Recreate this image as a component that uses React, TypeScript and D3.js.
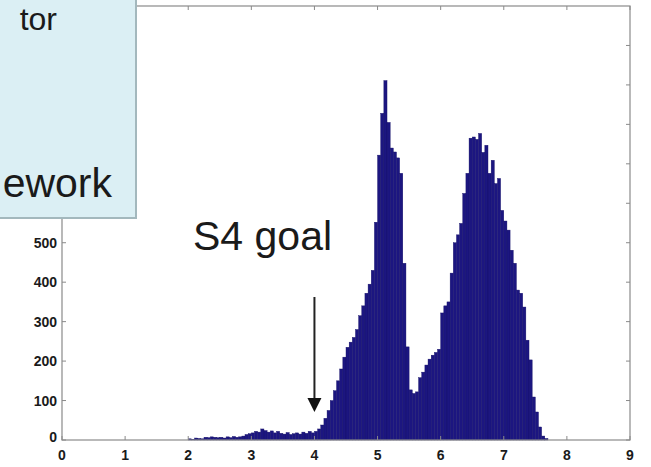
import React from "react";
import * as d3 from "d3";

// Histogram: bin left edges start at BIN_START, width BIN_WIDTH
const BIN_START = 2.0;
const BIN_WIDTH = 0.05;
const counts: number[] = [
  3, 2, 5, 4, 3, 7, 6, 8, 7, 6, // 2.00 - 2.45
  7, 5, 8, 6, 9, 7, 8, 10, 14, 16, // 2.50 - 2.95
  18, 22, 20, 28, 24, 20, 23, 18, 22, 17, // 3.00 - 3.45
  15, 19, 14, 16, 18, 15, 20, 17, 22, 18, // 3.50 - 3.95
  22, 28, 38, 55, 75, 100, 125, 150, 180, 210, // 4.00 - 4.45
  235, 248, 260, 280, 315, 340, 372, 395, 430, 552, // 4.50 - 4.95
  722, 828, 911, 805, 740, 730, 715, 676, 448, 236, // 5.00 - 5.45
  127, 118, 122, 158, 172, 190, 205, 215, 222, 230, // 5.50 - 5.95
  322, 340, 350, 423, 500, 520, 549, 625, 676, 765, // 6.00 - 6.45
  768, 762, 777, 729, 747, 676, 709, 650, 663, 582, // 6.50 - 6.95
  555, 532, 481, 448, 380, 372, 337, 253, 203, 109, // 7.00 - 7.45
  71, 33, 10, 4, // 7.50 - 7.65
];

const xTicks = [0, 1, 2, 3, 4, 5, 6, 7, 8, 9];
const yTicks = [0, 100, 200, 300, 400, 500, 600, 700, 800, 900, 1000];
const yLabelTicks = [0, 100, 200, 300, 400, 500];
const boxLines = ["tor", "ework"];
const annotation = "S4 goal";
const GOAL = 4;

export default function App() {
  const W = 651, H = 467;
  const x = d3.scaleLinear().domain([0, 9]).range([62, 630]);
  const y = d3.scaleLinear().domain([0, 1100]).range([440, 6]);
  const bins = counts.map((c, i) => ({ x0: BIN_START + i * BIN_WIDTH, x1: BIN_START + (i + 1) * BIN_WIDTH, c }));
  const axisColor = "#8a8a8a";
  const tickFont = "'Liberation Sans', Arial, Helvetica, sans-serif";
  const ax = x(GOAL);

  return (
    <svg width={W} height={H} style={{ position: "absolute", left: 0, top: 0, background: "#fff" }}>
      <rect x={0} y={0} width={W} height={H} fill="#fff" />
      {/* bars */}
      <g>
        {bins.map((b, i) => (
          <rect key={i} x={x(b.x0)} y={y(b.c)} width={x(b.x1) - x(b.x0)} height={y(0) - y(b.c)}
            fill="#1c1680" stroke="#140f66" strokeWidth={0.4} />
        ))}
      </g>
      {/* axes box */}
      <rect x={x(0)} y={y(1100)} width={x(9) - x(0)} height={y(0) - y(1100)} fill="none" stroke={axisColor} strokeWidth={1.2} />
      {xTicks.map((t) => (
        <g key={"xt" + t}>
          <line x1={x(t)} x2={x(t)} y1={y(0)} y2={y(0) - 4} stroke={axisColor} />
          <line x1={x(t)} x2={x(t)} y1={y(1100)} y2={y(1100) + 4} stroke={axisColor} />
          <text x={x(t)} y={460} textAnchor="middle" fontFamily={tickFont} fontWeight="bold" fontSize={14} fill="#1a1a1a">{t}</text>
        </g>
      ))}
      {yTicks.map((t) => (
        <g key={"yt" + t}>
          <line x1={x(0)} x2={x(0) + 4} y1={y(t)} y2={y(t)} stroke={axisColor} />
          <line x1={x(9)} x2={x(9) - 4} y1={y(t)} y2={y(t)} stroke={axisColor} />
        </g>
      ))}
      {yLabelTicks.map((t) => (
        <text key={"yl" + t} x={57} y={t === 0 ? y(t) + 2 : y(t) + 5} textAnchor="end" fontFamily={tickFont} fontWeight="bold" fontSize={14} fill="#1a1a1a">{t}</text>
      ))}
      {/* annotation */}
      <text x={193} y={250} fontFamily={tickFont} fontSize={41} fill="#1a1a1a">{annotation}</text>
      <line x1={ax} x2={ax} y1={297} y2={400} stroke="#222" strokeWidth={2} />
      <path d={`M${ax - 7},398 L${ax + 7},398 L${ax},412 Z`} fill="#111" />
      {/* light blue box */}
      <rect x={-5} y={-5} width={141} height={223} fill="#dbeff4" stroke="#a3b8bd" strokeWidth={2} />
      <text x={57} y={30} textAnchor="end" fontFamily={tickFont} fontSize={32} fill="#1a1a1a">{boxLines[0]}</text>
      <text x={112} y={197} textAnchor="end" fontFamily={tickFont} fontSize={41} fill="#1a1a1a">{boxLines[1]}</text>
    </svg>
  );
}
